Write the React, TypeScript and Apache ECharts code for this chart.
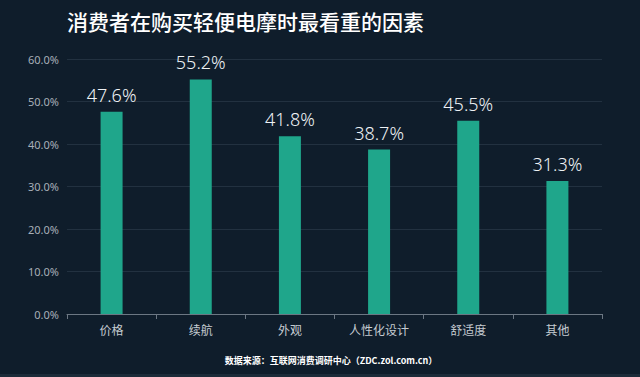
import React, { useEffect, useRef } from "react";
import * as echarts from "echarts";

const categories = ["价格", "续航", "外观", "人性化设计", "舒适度", "其他"];
const values = [47.6, 55.2, 41.8, 38.7, 45.5, 31.3];
const yTicks = [0, 10, 20, 30, 40, 50, 60];

export default function App() {
  const ref = useRef<HTMLDivElement>(null);
  useEffect(() => {
    const chart = echarts.init(ref.current!, undefined, { renderer: "svg" });
    chart.setOption({
      animation: false,
      backgroundColor: "#0f1d2b",
      title: {
        text: "消费者在购买轻便电摩时最看重的因素",
        left: 62,
        top: 5,
        textStyle: {
          color: "#ffffff",
          fontSize: 21,
          fontWeight: 500,
          fontFamily: "Noto Sans CJK SC",
        },
      },
      grid: { left: 67, right: 38, top: 59, bottom: 63 },
      xAxis: {
        type: "category",
        data: categories,
        axisLine: { lineStyle: { color: "#6c7783" } },
        axisTick: { show: true, alignWithLabel: false, length: 5, lineStyle: { color: "#6c7783" } },
        axisLabel: { color: "#c5cbd1", fontSize: 12, margin: 9, fontFamily: "Noto Sans CJK SC" },
      },
      yAxis: {
        type: "value",
        min: 0,
        max: 60,
        interval: 10,
        axisLine: { show: false },
        axisTick: { show: false },
        splitLine: { lineStyle: { color: "#223140", width: 1 } },
        axisLabel: {
          color: "#a7afb8",
          fontSize: 11,
          margin: 8,
          fontFamily: "Noto Sans",
          formatter: (v: number) => (yTicks.includes(v) ? v.toFixed(1) + "%" : ""),
        },
      },
      series: [
        {
          type: "bar",
          data: values,
          barWidth: 22,
          itemStyle: { color: "#1fa68b" },
          label: {
            show: true,
            position: "top",
            distance: 8,
            color: "#eef2f5",
            fontSize: 18,
            fontWeight: 300,
            fontFamily: "Noto Sans",
            formatter: (p: any) => p.value.toFixed(1) + "%",
          },
        },
      ],
      graphic: [
        {
          type: "text",
          x: 331,
          y: 360,
          style: {
            text: "数据来源：互联网消费调研中心（ZDC.zol.com.cn）",
            fill: "#ffffff",
            fontSize: 9,
            fontWeight: "bold",
            fontFamily: "Noto Sans CJK SC",
            align: "center",
            verticalAlign: "middle",
          },
        },
        {
          type: "rect",
          shape: { x: 0, y: 374, width: 640, height: 3 },
          style: { fill: "#1c2b39" },
        },
      ],
    });
    return () => chart.dispose();
  }, []);
  return <div ref={ref} style={{ width: 640, height: 377, position: "absolute", left: 0, top: 0 }} />;
}
